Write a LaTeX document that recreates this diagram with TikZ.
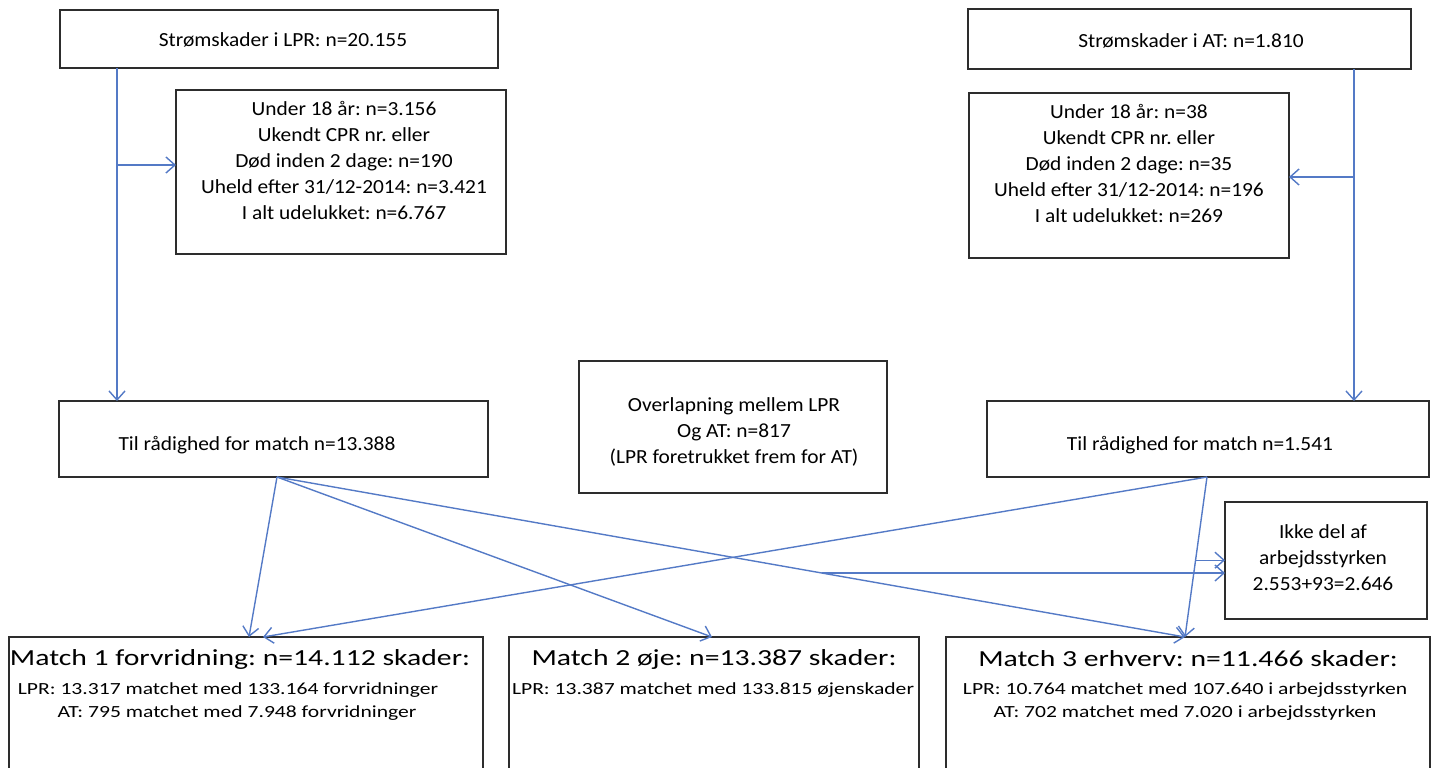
\documentclass[tikz,border=0pt]{standalone}
\usepackage{fontspec}
\setmainfont{Carlito}
\newfontfamily\topf[FakeStretch=1.07]{Carlito}
\newfontfamily\titf[FakeStretch=1.29]{Carlito}
\newfontfamily\linf[FakeStretch=1.27]{Carlito}
\usetikzlibrary{arrows.meta,calc}
\definecolor{conncol}{RGB}{84,122,198}
\definecolor{boxcol}{RGB}{45,45,45}
\frenchspacing
\begin{document}
\frenchspacing
\begin{tikzpicture}[x=0.5pt,y=-0.5pt,
  box/.style={draw=boxcol,line width=0.9pt,inner sep=0pt,outer sep=0pt,rectangle},
  txt/.style={inner sep=0pt,align=center,font=\topf\fontsize{10}{13}\selectfont\frenchspacing},
  ttl/.style={inner sep=0pt,font=\titf\fontsize{11.5}{13}\selectfont\frenchspacing},
  sml/.style={inner sep=0pt,font=\linf\fontsize{8.5}{10}\selectfont\frenchspacing},
  conn/.style={draw=conncol,line width=0.7pt},
  arr/.style={conn,-{Straight Barb[length=4.5pt,width=8pt]}}
]
\path[use as bounding box] (0,0) rectangle (1436,767);
\clip (0,0) rectangle (1436,767);

% boxes
\node[box,minimum width=219pt,minimum height=29pt] (A) at (279,39) {};
\node[txt] (At) at (283,40) {Strømskader i LPR: n=20.155};
\node[box,minimum width=165pt,minimum height=82pt] (B) at (341,172) {};
\node[txt] (Bt) at (344,160) {Under 18 år: n=3.156\\Ukendt CPR nr. eller\\Død inden 2 dage: n=190\\Uheld efter 31/12-2014: n=3.421\\I alt udelukket: n=6.767};
\node[box,minimum width=214.5pt,minimum height=38pt] (C) at (273.5,439) {};
\node[txt] (Ct) at (257,445) {Til rådighed for match n=13.388};

\node[box,minimum width=221.5pt,minimum height=30pt] (D) at (1189.5,39) {};
\node[txt] (Dt) at (1191,41) {Strømskader i AT: n=1.810};
\node[box,minimum width=160pt,minimum height=82.5pt] (E) at (1129,175.5) {};
\node[txt] (Et) at (1129,163) {Under 18 år: n=38\\Ukendt CPR nr. eller\\Død inden 2 dage: n=35\\Uheld efter 31/12-2014: n=196\\I alt udelukket: n=269};
\node[box,minimum width=221pt,minimum height=38pt] (F) at (1208,439) {};
\node[txt] (Ft) at (1200,445) {Til rådighed for match n=1.541};

\node[box,minimum width=154pt,minimum height=66pt] (G) at (733,427) {};
\node[txt] (Gt) at (734,432) {Overlapning mellem LPR\\Og AT: n=817\\(LPR foretrukket frem for AT)};

\node[box,minimum width=101pt,minimum height=58.5pt] (H) at (1326,560.5) {};
\node[txt] (Ht) at (1323,558) {Ikke del af\\arbejdsstyrken\\2.553+93=2.646};

\node[box,minimum width=237pt,minimum height=81.5pt] (M1) at (246,718.5) {};
\node[box,minimum width=205pt,minimum height=81.5pt] (M2) at (714,718.5) {};
\node[box,minimum width=242pt,minimum height=81.5pt] (M3) at (1188,718.5) {};
\node[ttl] (M1t) at (240,659) {Match 1 forvridning: n=14.112 skader:};
\node[sml] (M1a) at (228,690) {LPR: 13.317 matchet med 133.164 forvridninger};
\node[sml] (M1b) at (237,713) {AT: 795 matchet med 7.948 forvridninger};
\node[ttl] (M2t) at (714,659) {Match 2 øje: n=13.387 skader:};
\node[sml] (M2a) at (713,690) {LPR: 13.387 matchet med 133.815 øjenskader};
\node[ttl] (M3t) at (1188,659) {Match 3 erhverv: n=11.466 skader:};
\node[sml] (M3a) at (1185,690) {LPR: 10.764 matchet med 107.640 i arbejdsstyrken};
\node[sml] (M3b) at (1185,713) {AT: 702 matchet med 7.020 i arbejdsstyrken};

% connectors
\coordinate (lx) at (117,0);
\draw[arr] (A.south -| lx) -- (C.north -| lx);
\coordinate (bl) at (117,165);
\draw[arr] (bl) -- (bl -| B.west);
\coordinate (rx) at (1354,0);
\draw[arr] (D.south -| rx) -- (F.north -| rx);
\coordinate (br) at (1354,177);
\draw[arr] (br) -- (br -| E.east);

\coordinate (Cb) at (C.south -| 277,0);
\coordinate (Fb) at (F.south -| 1207,0);
\coordinate (m1a) at (M1.north -| 249,0);
\coordinate (m1b) at (M1.north -| 263,0);
\coordinate (m2) at (M2.north -| 712,0);
\coordinate (m3) at (M3.north -| 1185,0);

\draw[arr] (Cb) -- (m1a);
\draw[arr] (Cb) -- (m2);
\draw[arr] (Cb) -- (m3);
\draw[arr] (Fb) -- (m1b);
\draw[arr] (Fb) -- (m3);
\coordinate (h1) at ($(Cb)!0.6!(m3)$);
\draw[arr] (h1) -- (h1 -| H.west);
\coordinate (h2) at ($(Fb)!0.52!(m3)$);
\draw[arr] (h2) -- (h2 -| H.west);
\end{tikzpicture}
\end{document}
